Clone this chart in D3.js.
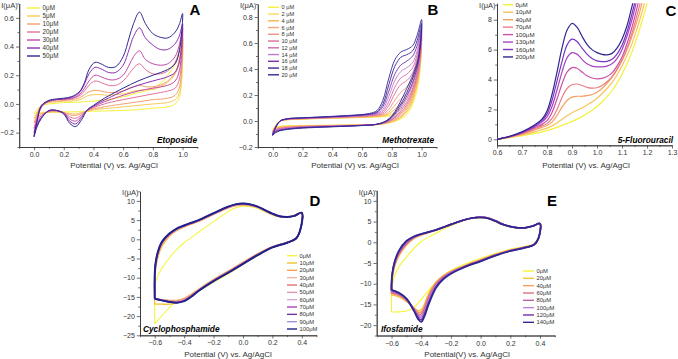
<!DOCTYPE html>
<html><head><meta charset="utf-8">
<script src="https://cdn.jsdelivr.net/npm/d3@7/dist/d3.min.js"></script>
<style>
body{margin:0;background:#fff}
svg{display:block}
text{font-family:"Liberation Sans",Arial,sans-serif}
</style></head>
<body><svg id="c" width="678" height="359"></svg>
<script>
// ---------------- Panel A : Etoposide ----------------
const aLabels = ["0μM","5μM","10μM","20μM","30μM","40μM","50μM"];
const aFwdPot = [0,0.02,0.05,0.1,0.15,0.2,0.25,0.28,0.31,0.34,0.37,0.41,0.45,0.5,0.55,0.6,0.64,0.67,0.71,0.75,0.8,0.85,0.9,0.95,0.98,1.0];
const aRevPot = [0.98,0.95,0.9,0.8,0.7,0.6,0.5,0.45,0.4,0.36,0.32,0.28,0.24,0.2,0.15,0.1,0.05,0.02,0];
const aFwd = [
 [-0.07,-0.04,-0.01,0.0,0.005,0.01,0.01,0.012,0.014,0.016,0.018,0.02,0.025,0.03,0.04,0.05,0.06,0.07,0.08,0.09,0.11,0.14,0.2,0.28,0.36,0.47],
 [-0.1,-0.06,-0.01,0.01,0.015,0.02,0.02,0.025,0.03,0.045,0.06,0.065,0.065,0.06,0.065,0.07,0.08,0.09,0.095,0.1,0.1,0.12,0.15,0.21,0.31,0.45],
 [-0.13,-0.07,-0.01,0.015,0.02,0.025,0.03,0.035,0.045,0.065,0.085,0.095,0.09,0.08,0.08,0.09,0.11,0.12,0.13,0.12,0.12,0.13,0.16,0.22,0.32,0.46],
 [-0.17,-0.09,-0.01,0.02,0.03,0.03,0.035,0.045,0.06,0.09,0.13,0.16,0.15,0.13,0.13,0.16,0.21,0.25,0.28,0.24,0.21,0.21,0.23,0.29,0.38,0.5],
 [-0.2,-0.11,-0.02,0.02,0.03,0.035,0.04,0.05,0.07,0.11,0.16,0.2,0.19,0.17,0.17,0.2,0.27,0.33,0.37,0.31,0.28,0.27,0.28,0.33,0.42,0.53],
 [-0.22,-0.12,-0.02,0.02,0.03,0.035,0.045,0.06,0.085,0.14,0.21,0.255,0.245,0.22,0.22,0.27,0.38,0.47,0.53,0.46,0.41,0.38,0.38,0.42,0.48,0.56],
 [-0.23,-0.12,-0.01,0.025,0.035,0.04,0.05,0.065,0.09,0.15,0.24,0.29,0.28,0.255,0.26,0.33,0.46,0.56,0.64,0.56,0.49,0.465,0.46,0.5,0.56,0.63]
];
const aRev = [
 [0.05,0.0,-0.02,-0.03,-0.04,-0.045,-0.048,-0.05,-0.05,-0.052,-0.053,-0.055,-0.055,-0.055,-0.056,-0.057,-0.058,-0.062,-0.07],
 [0.08,0.03,0.01,0.0,-0.01,-0.02,-0.03,-0.035,-0.04,-0.05,-0.06,-0.07,-0.066,-0.06,-0.057,-0.058,-0.066,-0.08,-0.1],
 [0.12,0.06,0.04,0.03,0.015,0.0,-0.015,-0.025,-0.035,-0.048,-0.065,-0.08,-0.075,-0.06,-0.052,-0.055,-0.07,-0.1,-0.13],
 [0.18,0.11,0.09,0.07,0.05,0.03,0.008,-0.008,-0.026,-0.045,-0.075,-0.1,-0.09,-0.06,-0.048,-0.052,-0.08,-0.12,-0.17],
 [0.24,0.16,0.13,0.11,0.09,0.06,0.025,0.005,-0.02,-0.042,-0.085,-0.12,-0.105,-0.062,-0.046,-0.05,-0.09,-0.14,-0.2],
 [0.3,0.22,0.19,0.16,0.13,0.09,0.04,0.015,-0.015,-0.04,-0.095,-0.14,-0.12,-0.065,-0.045,-0.047,-0.095,-0.15,-0.22],
 [0.38,0.28,0.24,0.2,0.16,0.11,0.055,0.025,-0.01,-0.04,-0.11,-0.158,-0.135,-0.07,-0.045,-0.045,-0.1,-0.16,-0.23]
];
const aColors = ["#f2f23a","#f9c95a","#f5a06e","#e3729a","#c04aa8","#8c32b4","#2f2a90"];

// ---------------- Panel B : Methotrexate ----------------
const bLabels = ["0 µM","2 µM","4 µM","6 µM","8 µM","10 µM","12 µM","14 µM","16 µM","18 µM","20 µM"];
const bFwdPot = [0,0.02,0.05,0.1,0.2,0.3,0.4,0.5,0.6,0.65,0.7,0.74,0.78,0.82,0.86,0.9,0.94,0.97,1.0];
const bRevPot = [0.98,0.95,0.92,0.88,0.84,0.8,0.76,0.7,0.6,0.4,0.2,0.1,0.05,0.02,0];
const bFwd = [
 [-0.07,-0.034,0.0,0.009,0.014,0.018,0.021,0.024,0.026,0.028,0.03,0.032,0.037,0.047,0.065,0.1,0.18,0.33,0.56],
 [-0.075,-0.036,0.0,0.01,0.015,0.019,0.022,0.025,0.028,0.03,0.033,0.036,0.045,0.065,0.095,0.13,0.21,0.36,0.58],
 [-0.08,-0.038,0.0,0.01,0.016,0.02,0.023,0.026,0.03,0.032,0.036,0.04,0.055,0.09,0.13,0.17,0.25,0.39,0.6],
 [-0.085,-0.04,0.0,0.011,0.017,0.021,0.024,0.028,0.032,0.035,0.039,0.046,0.07,0.12,0.17,0.21,0.29,0.42,0.62],
 [-0.09,-0.042,0.0,0.012,0.018,0.022,0.026,0.03,0.035,0.038,0.043,0.053,0.09,0.16,0.22,0.26,0.33,0.45,0.64],
 [-0.095,-0.044,0.0,0.013,0.019,0.023,0.027,0.032,0.037,0.041,0.047,0.062,0.12,0.21,0.28,0.31,0.37,0.48,0.66],
 [-0.1,-0.046,0.0,0.014,0.02,0.025,0.029,0.034,0.04,0.044,0.052,0.075,0.15,0.26,0.33,0.36,0.41,0.51,0.68],
 [-0.1,-0.048,0.0,0.015,0.021,0.026,0.03,0.036,0.042,0.047,0.057,0.09,0.19,0.31,0.38,0.41,0.45,0.54,0.7],
 [-0.105,-0.05,0.0,0.016,0.022,0.027,0.032,0.038,0.045,0.05,0.063,0.11,0.23,0.36,0.43,0.46,0.5,0.58,0.72],
 [-0.11,-0.05,0.0,0.017,0.024,0.029,0.034,0.04,0.048,0.055,0.07,0.13,0.28,0.42,0.49,0.51,0.54,0.62,0.75],
 [-0.11,-0.05,0.0,0.018,0.025,0.03,0.036,0.042,0.05,0.058,0.08,0.16,0.33,0.47,0.53,0.55,0.58,0.66,0.78]
];
const bRev = [
 [0.3,0.16,0.08,0.03,0.005,-0.01,-0.02,-0.028,-0.03,-0.032,-0.034,-0.036,-0.04,-0.05,-0.07],
 [0.32,0.18,0.095,0.04,0.01,-0.007,-0.019,-0.028,-0.03,-0.033,-0.036,-0.039,-0.043,-0.053,-0.075],
 [0.34,0.2,0.11,0.05,0.015,-0.004,-0.017,-0.027,-0.031,-0.034,-0.038,-0.042,-0.047,-0.057,-0.08],
 [0.36,0.22,0.13,0.06,0.02,0.0,-0.015,-0.027,-0.031,-0.035,-0.04,-0.045,-0.05,-0.06,-0.085],
 [0.38,0.24,0.15,0.075,0.03,0.005,-0.013,-0.026,-0.032,-0.036,-0.042,-0.048,-0.054,-0.064,-0.09],
 [0.4,0.26,0.17,0.09,0.04,0.01,-0.011,-0.026,-0.032,-0.038,-0.044,-0.051,-0.058,-0.068,-0.095],
 [0.42,0.28,0.19,0.11,0.05,0.015,-0.009,-0.026,-0.033,-0.039,-0.046,-0.054,-0.061,-0.072,-0.1],
 [0.44,0.31,0.22,0.13,0.065,0.02,-0.007,-0.025,-0.033,-0.04,-0.048,-0.057,-0.065,-0.076,-0.1],
 [0.46,0.33,0.24,0.15,0.08,0.027,-0.005,-0.025,-0.034,-0.042,-0.05,-0.06,-0.068,-0.08,-0.105],
 [0.48,0.36,0.27,0.17,0.095,0.033,-0.002,-0.025,-0.034,-0.043,-0.052,-0.062,-0.072,-0.085,-0.11],
 [0.5,0.38,0.3,0.2,0.11,0.04,0.0,-0.025,-0.035,-0.045,-0.055,-0.065,-0.075,-0.09,-0.11]
];
const bColors = ["#f6f23a","#f8dc58","#f6b348","#f7a676","#f29284","#de6a94","#d468ae","#c27ad0","#7434aa","#3d2592","#34289a"];

// ---------------- Panel C : 5-Fluorouracil ----------------
const cLabels = ["0μM","10μM","40μM","70μM","100μM","130μM","160μM","200μM"];
const cPot = [0.6,0.65,0.7,0.75,0.78,0.8,0.82,0.84,0.86,0.88,0.9,0.92,0.94,0.96,0.98,1.0,1.02,1.04,1.06,1.08,1.1,1.12,1.14,1.16,1.18,1.2,1.22];
const cVals = [
 [0,0.11,0.25,0.4,0.5,0.58,0.68,0.8,0.93,1.07,1.2,1.35,1.52,1.72,1.95,2.2,2.5,2.85,3.25,3.75,4.35,5.05,5.85,6.8,7.9,9.1,10.5],
 [0,0.13,0.3,0.5,0.65,0.75,0.9,1.1,1.35,1.58,1.78,1.95,2.1,2.3,2.5,2.75,3.05,3.4,3.8,4.3,4.9,5.6,6.4,7.4,8.5,9.8,11.3],
 [0,0.15,0.35,0.62,0.8,0.92,1.15,1.6,2.15,2.6,2.82,2.88,2.88,2.92,3.0,3.15,3.4,3.75,4.15,4.65,5.25,6.0,6.9,7.9,9.1,10.5,12],
 [0,0.16,0.38,0.7,0.9,1.05,1.4,2.0,2.8,3.4,3.65,3.7,3.6,3.48,3.42,3.45,3.6,3.85,4.2,4.7,5.3,6.1,7.1,8.3,9.6,11,13],
 [0,0.17,0.42,0.78,1.0,1.25,1.8,2.7,3.7,4.5,4.8,4.75,4.5,4.25,4.1,4.05,4.08,4.2,4.45,4.9,5.5,6.4,7.5,8.8,10.3,12,14],
 [0,0.18,0.45,0.85,1.15,1.5,2.2,3.3,4.5,5.45,5.8,5.7,5.35,5.05,4.9,4.85,4.85,4.9,5.05,5.4,6.0,6.9,8.0,9.4,11,13,15],
 [0,0.19,0.48,0.9,1.25,1.7,2.6,3.9,5.2,6.3,6.7,6.55,6.1,5.7,5.4,5.25,5.2,5.22,5.35,5.7,6.3,7.2,8.4,9.8,11.5,13.5,15.5],
 [0,0.2,0.5,0.95,1.35,1.9,3.0,4.5,6.1,7.3,7.75,7.5,6.9,6.35,6.0,5.8,5.68,5.65,5.75,6.1,6.7,7.6,8.9,10.3,12,14,16]
];
const cColors = ["#f2f23a","#f9c45a","#f5a060","#ec7f88","#cc4fa5","#a742c2","#7a36c0","#2e2790"];

// ---------------- Panel D : Cyclophosphamide ----------------
const dLabels = ["0μM","10μM","20μM","30μM","40μM","50μM","60μM","70μM","80μM","90μM","100μM"];
const dPot = [-0.6,-0.6,-0.595,-0.58,-0.55,-0.5,-0.45,-0.4,-0.35,-0.3,-0.2,-0.1,-0.05,0,0.05,0.1,0.15,0.2,0.25,0.3,0.35,0.4,0.39,0.36,0.3,0.2,0.1,0,-0.1,-0.2,-0.3,-0.35,-0.4,-0.45,-0.5,-0.55,-0.6];
const dVals = [
 [-22,-14,-11.5,-9.6,-7.5,-4.8,-2.6,-0.9,0.5,1.9,4.6,7.2,8.2,8.6,8.5,8.0,7.1,6.3,5.8,5.8,6.2,7.0,2.5,0.0,-0.9,-2.2,-4.2,-6.6,-9.0,-11.2,-13.5,-14.7,-15.6,-16.0,-17.8,-19.9,-22],
 [-16.9,-12,-8.5,-5.0,-1.8,0.8,2.3,3.2,4.0,4.7,6.5,8.2,8.8,9.0,8.8,8.3,7.4,6.5,5.9,5.8,6.2,7.0,2.5,0.1,-0.8,-2.0,-3.8,-6.0,-8.3,-10.5,-13.0,-14.3,-15.5,-16.5,-16.9,-16.9,-16.9],
 [-15.6,-10.5,-7.5,-4.5,-1.4,1.0,2.4,3.3,4.0,4.7,6.5,8.2,8.8,9.0,8.8,8.3,7.4,6.5,5.9,5.8,6.2,7.0,2.5,0.1,-0.8,-1.9,-3.8,-6.0,-8.3,-10.5,-13.0,-14.3,-15.4,-15.9,-15.9,-15.7,-15.6],
 [-15.5,-10.2,-7.2,-4.2,-1.2,1.1,2.5,3.3,4.1,4.8,6.6,8.3,8.9,9.1,8.9,8.3,7.4,6.5,5.9,5.8,6.2,7.0,2.5,0.1,-0.8,-2.0,-3.9,-6.1,-8.4,-10.6,-13.1,-14.5,-15.6,-16.1,-16.0,-15.8,-15.5],
 [-15.5,-10.0,-7.0,-4.0,-1.0,1.2,2.6,3.4,4.1,4.8,6.6,8.3,8.9,9.1,8.9,8.4,7.5,6.6,5.9,5.8,6.1,6.9,2.5,0.1,-0.8,-2.0,-3.9,-6.2,-8.5,-10.7,-13.2,-14.6,-15.7,-16.2,-16.1,-15.8,-15.5],
 [-15.5,-9.9,-6.9,-3.9,-0.9,1.3,2.6,3.5,4.2,4.9,6.7,8.4,9.0,9.2,9.0,8.4,7.5,6.6,5.9,5.8,6.1,6.9,2.5,0.1,-0.9,-2.0,-4.0,-6.2,-8.5,-10.7,-13.2,-14.7,-15.8,-16.3,-16.2,-15.9,-15.5],
 [-15.5,-9.8,-6.8,-3.8,-0.8,1.3,2.7,3.5,4.2,4.9,6.7,8.4,9.0,9.2,9.0,8.4,7.5,6.6,5.9,5.8,6.1,6.9,2.5,0.2,-0.9,-2.1,-4.0,-6.3,-8.6,-10.8,-13.3,-14.8,-15.9,-16.4,-16.2,-15.9,-15.5],
 [-15.5,-9.7,-6.7,-3.7,-0.7,1.4,2.7,3.5,4.3,5.0,6.7,8.4,9.1,9.2,9.0,8.5,7.6,6.7,6.0,5.8,6.1,6.9,2.5,0.2,-0.9,-2.1,-4.0,-6.3,-8.6,-10.8,-13.3,-14.8,-16.0,-16.4,-16.3,-15.9,-15.5],
 [-15.5,-9.6,-6.6,-3.6,-0.7,1.4,2.8,3.6,4.3,5.0,6.8,8.5,9.1,9.3,9.1,8.5,7.6,6.7,6.0,5.8,6.1,6.9,2.5,0.2,-0.9,-2.1,-4.1,-6.4,-8.7,-10.9,-13.4,-14.9,-16.0,-16.5,-16.3,-15.9,-15.5],
 [-15.5,-9.5,-6.5,-3.5,-0.6,1.5,2.8,3.6,4.3,5.0,6.8,8.5,9.1,9.3,9.1,8.5,7.6,6.7,6.0,5.8,6.1,6.9,2.5,0.2,-0.9,-2.1,-4.1,-6.4,-8.7,-10.9,-13.4,-14.9,-16.1,-16.5,-16.3,-15.9,-15.5],
 [-15.5,-9.5,-6.5,-3.5,-0.6,1.5,2.8,3.6,4.3,5.0,6.8,8.5,9.1,9.3,9.1,8.5,7.6,6.7,6.0,5.8,6.1,6.9,2.5,0.2,-0.9,-2.1,-4.1,-6.4,-8.7,-10.9,-13.4,-14.9,-16.1,-16.5,-16.3,-15.9,-15.5]
];
const dColors = ["#f5f542","#f5c030","#f5a455","#f2b4a5","#e27272","#e596b5","#d8a8e0","#b040b0","#7535a5","#9c94d5","#22208a"];

// ---------------- Panel E : Ifosfamide ----------------
const eLabels = ["0μM","20μM","40μM","60μM","80μM","100μM","120μM","140μM"];
const ePot = [-0.6,-0.6,-0.595,-0.58,-0.55,-0.5,-0.45,-0.4,-0.3,-0.2,-0.1,-0.05,0,0.05,0.1,0.15,0.2,0.25,0.3,0.35,0.4,0.39,0.36,0.3,0.2,0.1,0,-0.1,-0.2,-0.25,-0.3,-0.35,-0.38,-0.4,-0.42,-0.45,-0.5,-0.55,-0.6];
const eVals = [
 [-16.8,-13,-10.5,-8.2,-5.9,-3.6,-1.5,0.2,2.2,4.0,5.4,5.8,5.9,5.7,5.0,4.2,3.7,3.4,3.4,3.8,4.4,1.0,-0.4,-1.0,-1.7,-2.7,-3.9,-5.2,-6.8,-8.0,-9.6,-11.6,-12.9,-13.8,-14.6,-15.7,-16.6,-16.8,-16.8],
 [-12.7,-11.2,-8.8,-6.0,-3.3,-0.7,0.9,1.7,2.9,4.2,5.5,5.9,6.1,5.9,5.2,4.4,3.8,3.5,3.5,3.9,4.5,1.0,-0.5,-1.1,-1.9,-2.9,-4.2,-5.5,-7.0,-8.0,-9.6,-12.4,-15.1,-16.3,-16.5,-15.8,-14.3,-13.2,-12.7],
 [-12.4,-10.8,-8.4,-5.6,-3.0,-0.5,1.0,1.8,3.0,4.3,5.5,5.9,6.1,5.9,5.2,4.4,3.8,3.5,3.5,3.9,4.5,1.0,-0.5,-1.2,-1.9,-3.0,-4.3,-5.6,-7.1,-8.2,-9.8,-12.8,-15.6,-16.8,-16.9,-15.9,-14.1,-12.9,-12.4],
 [-12.2,-10.6,-8.2,-5.4,-2.8,-0.4,1.1,1.9,3.0,4.3,5.5,5.9,6.1,5.9,5.2,4.4,3.8,3.5,3.5,3.9,4.5,1.0,-0.5,-1.2,-2.0,-3.0,-4.4,-5.7,-7.2,-8.3,-10.0,-13.2,-16.1,-17.3,-17.3,-16.0,-13.9,-12.7,-12.2],
 [-12.0,-10.4,-8.0,-5.2,-2.6,-0.3,1.2,1.9,3.0,4.3,5.5,5.9,6.1,5.9,5.2,4.4,3.8,3.5,3.5,3.9,4.5,1.0,-0.6,-1.2,-2.0,-3.1,-4.4,-5.7,-7.3,-8.4,-10.2,-13.6,-16.6,-17.8,-17.6,-16.1,-13.8,-12.5,-12.0],
 [-11.8,-10.2,-7.8,-5.0,-2.4,0.0,1.3,2.0,3.0,4.3,5.5,5.9,6.1,5.9,5.2,4.4,3.8,3.5,3.5,3.9,4.5,1.0,-0.6,-1.3,-2.0,-3.1,-4.5,-5.8,-7.4,-8.6,-10.4,-14.0,-17.0,-18.2,-17.9,-16.2,-13.7,-12.4,-11.8],
 [-11.6,-10,-7.6,-4.9,-2.2,0.2,1.3,2.0,3.0,4.3,5.5,5.9,6.0,5.8,5.1,4.3,3.8,3.5,3.5,3.9,4.5,1.0,-0.6,-1.3,-2.1,-3.2,-4.5,-5.8,-7.5,-8.7,-10.7,-14.5,-17.5,-18.7,-18.2,-16.3,-13.6,-12.3,-11.6],
 [-11.5,-10,-7.5,-4.8,-2.0,0.3,1.4,2.0,3.0,4.3,5.5,5.9,6.0,5.8,5.1,4.3,3.8,3.5,3.5,3.9,4.5,1.0,-0.6,-1.3,-2.1,-3.2,-4.6,-5.9,-7.6,-8.9,-11.0,-15.0,-18.0,-19.2,-18.6,-16.5,-13.6,-12.2,-11.5]
];
const eColors = ["#f5f530","#f5c040","#f5a060","#e07080","#c060a0","#c080e0","#7030b0","#302890"];

// ---------------- ticks ----------------
const cvXTicks = [0,0.2,0.4,0.6,0.8,1.0], cvXMinor = [-0.1,0.1,0.3,0.5,0.7,0.9,1.1];
const aYTicks = [-0.2,0,0.2,0.4,0.6], aYMinor = [-0.3,-0.1,0.1,0.3,0.5,0.7];
const bYTicks = [-0.2,0,0.2,0.4,0.6,0.8], bYMinor = [-0.1,0.1,0.3,0.5,0.7,0.9];
const cXTicks = [0.6,0.7,0.8,0.9,1.0,1.1,1.2,1.3], cXMinor = [0.65,0.75,0.85,0.95,1.05,1.15,1.25];
const cYTicks = [0,2,4,6,8], cYMinor = [1,3,5,7,9];
const deXTicks = [-0.6,-0.4,-0.2,0,0.2,0.4], deXMinor = [-0.7,-0.5,-0.3,-0.1,0.1,0.3,0.5];
const dYTicks = [-25,-20,-15,-10,-5,0,5,10], dYMinor = [-22.5,-17.5,-12.5,-7.5,-2.5,2.5,7.5,12.5];
const eYTicks = [-20,-15,-10,-5,0,5,10], eYMinor = [-22.5,-17.5,-12.5,-7.5,-2.5,2.5,7.5,12.5];

const svg = d3.select("#c");
const ink = "#333";

function loop(fP, fV, rP, rV) {
  const pts = fP.map((p,i)=>[p,fV[i]]);
  if (rP) rP.forEach((p,i)=>pts.push([p,rV[i]]));
  return pts;
}

function panel(o) {
  const g = svg.append("g");
  const x = d3.scaleLinear().domain(o.xd).range(o.xr);
  const y = d3.scaleLinear().domain(o.yd).range(o.yr);
  const cid = "clip" + o.letter;
  svg.append("clipPath").attr("id", cid).append("rect")
    .attr("x", o.xr[0]).attr("y", o.yr[1]).attr("width", o.xr[1]-o.xr[0]).attr("height", o.yr[0]-o.yr[1]);

  const styleAxis = sel => {
    sel.selectAll("path").attr("stroke", ink).attr("stroke-width", 0.8);
    sel.selectAll("line").attr("stroke", ink).attr("stroke-width", 0.7);
    sel.selectAll("text").attr("fill", ink).attr("font-size", 7).attr("font-family", '"Liberation Sans",Arial,sans-serif');
  };
  g.append("g").attr("transform", `translate(0,${o.yr[0]})`)
    .call(d3.axisBottom(x).tickValues(o.xm).tickSize(1.8).tickSizeOuter(0).tickFormat("")).call(styleAxis);
  g.append("g").attr("transform", `translate(0,${o.yr[0]})`)
    .call(d3.axisBottom(x).tickValues(o.xt).tickSize(3.2).tickSizeOuter(0).tickPadding(2).tickFormat(d3.format(o.xf))).call(styleAxis);
  g.append("g").attr("transform", `translate(${o.xr[0]},0)`)
    .call(d3.axisLeft(y).tickValues(o.ym).tickSize(1.8).tickSizeOuter(0).tickFormat("")).call(styleAxis);
  g.append("g").attr("transform", `translate(${o.xr[0]},0)`)
    .call(d3.axisLeft(y).tickValues(o.yt).tickSize(3.2).tickSizeOuter(0).tickPadding(2).tickFormat(d3.format(o.yf))).call(styleAxis);

  const line = d3.line().x(d=>x(d[0])).y(d=>y(d[1])).curve(d3.curveCatmullRom.alpha(0.5));
  o.curves.forEach((pts,i)=>{
    g.append("path").attr("d", line(pts)).attr("fill","none")
      .attr("stroke", o.colors[i]).attr("stroke-width", (o.sw && o.sw[i]) || o.lw)
      .attr("stroke-linejoin","round").attr("clip-path", `url(#${cid})`);
  });

  // legend
  o.labels.forEach((lab,i)=>{
    const yy = o.leg[2] + i*o.leg[3];
    g.append("line").attr("x1", o.leg[0]).attr("x2", o.leg[1]).attr("y1", yy).attr("y2", yy)
      .attr("stroke", o.colors[i]).attr("stroke-width", o.legW || 1.4);
    g.append("text").attr("x", o.leg[1]+2.5).attr("y", yy).attr("dy","0.35em")
      .attr("font-size", o.legF || 6).attr("fill", ink).text(lab);
  });

  // y label
  g.append("text").attr("x", o.xr[0]-1.5).attr("y", o.yl).attr("text-anchor","end")
    .attr("font-size", 7.5).attr("fill", ink).text("I(μA)");
  // x title
  g.append("text").attr("x", o.xt2[0]).attr("y", o.xt2[1]).attr("text-anchor","middle")
    .attr("font-size", 8).attr("fill", ink).text(o.xTitle);
  // letter
  g.append("text").attr("x", o.let[0]).attr("y", o.let[1]).attr("text-anchor","middle")
    .attr("font-size", 15).attr("font-weight","bold").attr("fill","#000")
    .attr("font-family", '"Open Sans","Liberation Sans",sans-serif').text(o.letter);
  // drug name
  g.append("text").attr("x", o.drug[0]).attr("y", o.drug[1]).attr("text-anchor", o.drug[2])
    .attr("font-size", 8.3).attr("font-weight","bold").attr("font-style","italic").attr("fill","#000").text(o.name);
}

const xTitle = "Potential (V) vs. Ag/AgCl";

panel({letter:"A", name:"Etoposide", xd:[-0.1,1.1], xr:[19.2,197.4], yd:[-0.3,0.7], yr:[147,3.5],
  xt:cvXTicks, xm:cvXMinor, yt:aYTicks, ym:aYMinor, xf:".1f", yf:".1f",
  curves: aFwd.map((f,i)=>loop(aFwdPot,f,aRevPot,aRev[i])), colors:aColors, lw:1,
  labels:aLabels, leg:[27,40,8,8], legF:6.3,
  yl:8, xt2:[114,168], xTitle:xTitle, let:[195,15], drug:[197,143,"end"]});

panel({letter:"B", name:"Methotrexate", xd:[-0.1,1.1], xr:[257.8,436.5], yd:[-0.2,0.9], yr:[147,4],
  xt:cvXTicks, xm:cvXMinor, yt:bYTicks, ym:bYMinor, xf:".1f", yf:".1f",
  curves: bFwd.map((f,i)=>loop(bFwdPot,f,bRevPot,bRev[i])), colors:bColors, lw:0.9,
  labels:bLabels, leg:[268,279,7.3,6.75], legF:5.6,
  yl:8, xt2:[355,168], xTitle:xTitle, let:[433,15], drug:[434,143,"end"]});

panel({letter:"C", name:"5-Fluorouracil", xd:[0.6,1.3], xr:[497,672], yd:[-0.4,9.1], yr:[145.3,3.3],
  xt:cXTicks, xm:cXMinor, yt:cYTicks, ym:cYMinor, xf:".1f", yf:"d",
  curves: cVals.map(v=>loop(cPot,v)), colors:cColors, lw:1.2,
  labels:cLabels, leg:[503,513,4.8,7.45], legF:6.2,
  yl:8, xt2:[586,168], xTitle:xTitle, let:[671,16], drug:[673,143,"end"]});

panel({letter:"D", name:"Cyclophosphamide", xd:[-0.7,0.5], xr:[140,316.5], yd:[-25,12.5], yr:[335.3,191.3],
  xt:deXTicks, xm:deXMinor, yt:dYTicks, ym:dYMinor, xf:".1f", yf:"d",
  curves: dVals.map(v=>loop(dPot,v)), colors:dColors, lw:1.3, sw:[1.1,1.3,1.3,1.3,1.3,1.3,1.3,1.3,1.3,1.5,2],
  labels:dLabels, leg:[287,297,255.7,7.33], legF:5.8,
  yl:195, xt2:[228,357], xTitle:xTitle, let:[315,206], drug:[143,332,"start"]});

panel({letter:"E", name:"Ifosfamide", xd:[-0.7,0.5], xr:[376.7,554.8], yd:[-22.5,12.5], yr:[335.5,190.5],
  xt:deXTicks, xm:deXMinor, yt:eYTicks, ym:eYMinor, xf:".1f", yf:"d",
  curves: eVals.map(v=>loop(ePot,v)), colors:eColors, lw:1.4, sw:[1.1,1.4,1.4,1.4,1.4,1.4,1.5,1.8],
  labels:eLabels, leg:[523,534,271,7.33], legF:5.8,
  yl:195, xt2:[467,357], xTitle:"Potential(V) vs. Ag/AgCl", let:[552,206], drug:[381,332,"start"]});
</script>
</body></html>
